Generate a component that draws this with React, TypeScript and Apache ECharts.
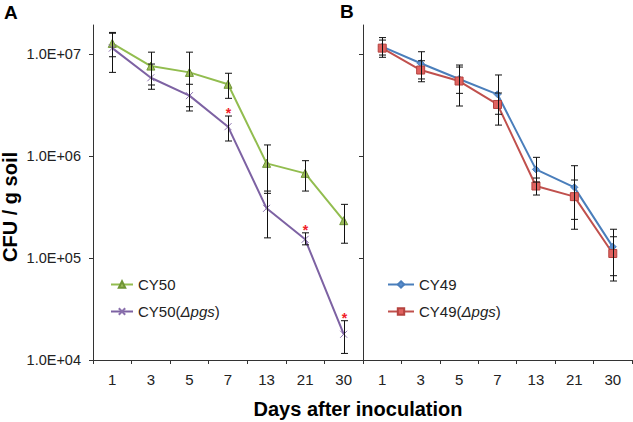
import React, { useEffect, useRef } from "react";
import * as echarts from "echarts";

const days = ["1", "3", "5", "7", "13", "21", "30"];
const yTicks = [1e4, 1e5, 1e6, 1e7];

const cy50 = [1.28e7, 7.67e6, 6.65e6, 5.08e6, 8.51e5, 6.79e5, 2.33e5];
const cy50Low = [9.47e6, 5.0e6, 3.06e6, 3.7e6, 4.32e5, 4.55e5, 1.4e5];
const cy50High = [1.64e7, 1.05e7, 1.05e7, 6.52e6, 1.29e6, 9.04e5, 3.37e5];

const cy50pgs = [1.15e7, 5.89e6, 3.93e6, 1.95e6, 3.08e5, 1.53e5, 1.79e4];
const cy50pgsLow = [6.65e6, 4.54e6, 2.78e6, 1.41e6, 1.58e5, 1.35e5, 1.16e4];
const cy50pgsHigh = [1.61e7, 8.03e6, 5.08e6, 2.48e6, 4.55e5, 1.77e5, 2.43e4];
const cy50pgsSig = [false, false, false, true, false, true, true];

const cy49 = [1.19e7, 8.17e6, 5.73e6, 4.05e6, 7.43e5, 4.95e5, 1.29e5];
const cy49Low = [9.84e6, 5.73e6, 4.14e6, 2.58e6, 5.58e5, 2.4e5, 6.72e4];
const cy49High = [1.46e7, 1.06e7, 7.85e6, 6.27e6, 9.75e5, 8.07e5, 1.92e5];

const cy49pgs = [1.15e7, 7.01e6, 5.47e6, 3.22e6, 5.1e5, 4.01e5, 1.11e5];
const cy49pgsLow = [9.35e6, 5.38e6, 3.11e6, 2.02e6, 4.16e5, 1.92e5, 5.96e4];
const cy49pgsHigh = [1.38e7, 8.65e6, 7.5e6, 4.17e6, 6.11e5, 5.84e5, 1.62e5];

const FONT = "'Liberation Sans', Arial, sans-serif";
const AXIS_COLOR = "#333";
const Y_MIN = 1e4;
const Y_MAX = 1.94e7;

const errData = (low: number[], high: number[], sig?: boolean[]) =>
  low.map((l, i) => [i, l, high[i], sig && sig[i] ? 1 : 0]);

const errorSeries = (idx: number, low: number[], high: number[], sig?: boolean[]) => ({
  type: "custom",
  xAxisIndex: idx,
  yAxisIndex: idx,
  z: 5,
  silent: true,
  encode: { x: 0, y: [1, 2] },
  data: errData(low, high, sig),
  renderItem: (params: any, api: any) => {
    const i = api.value(0);
    const lo = api.coord([i, api.value(1)]);
    const hi = api.coord([i, api.value(2)]);
    const x = Math.round(lo[0]) + 0.5;
    const w = 3.5;
    const stroke = { stroke: "#111", lineWidth: 1 };
    const children: any[] = [
      { type: "line", shape: { x1: x, y1: hi[1], x2: x, y2: lo[1] }, style: stroke },
      { type: "line", shape: { x1: x - w, y1: hi[1], x2: x + w, y2: hi[1] }, style: stroke },
      { type: "line", shape: { x1: x - w, y1: lo[1], x2: x + w, y2: lo[1] }, style: stroke },
    ];
    if (api.value(3) === 1) {
      children.push({
        type: "text",
        x: x,
        y: hi[1] - 10,
        style: {
          text: "*",
          fill: "#f0202a",
          font: `bold 14px ${FONT}`,
          align: "center",
          verticalAlign: "top",
        },
      });
    }
    return { type: "group", children };
  },
});

const xAxisCommon = {
  type: "category",
  data: days,
  boundaryGap: true,
  axisLine: { lineStyle: { color: AXIS_COLOR, width: 1 } },
  axisTick: { show: true, length: 4, lineStyle: { color: AXIS_COLOR } },
  axisLabel: { fontSize: 15, color: "#222", fontFamily: FONT, margin: 12 },
  splitLine: { show: false },
};

const yAxisCommon = {
  type: "log",
  logBase: 10,
  min: Y_MIN,
  max: Y_MAX,
  axisLine: { show: true, lineStyle: { color: AXIS_COLOR, width: 1 } },
  axisTick: { show: true, length: 4, lineStyle: { color: AXIS_COLOR }, customValues: yTicks },
  splitLine: { show: false },
  minorTick: { show: false },
};

const legendRich = {
  i: { fontStyle: "italic", fontSize: 15, fontFamily: FONT, color: "#222" },
};
const legendFormatter = (name: string) => {
  const k = name.indexOf("(Δpgs)");
  if (k < 0) return name;
  return `${name.slice(0, k)}({i|Δpgs})`;
};

export default function App() {
  const ref = useRef<HTMLDivElement>(null);
  useEffect(() => {
    if (!ref.current) return;
    const chart = echarts.init(ref.current, undefined, { renderer: "svg" });
    chart.setOption({
      animation: false,
      backgroundColor: "#fff",
      textStyle: { fontFamily: FONT },
      grid: [
        { left: 93, top: 25, width: 270, height: 335 },
        { left: 363, top: 25, width: 269, height: 335 },
      ],
      xAxis: [
        { ...xAxisCommon, gridIndex: 0 },
        { ...xAxisCommon, gridIndex: 1 },
      ],
      yAxis: [
        {
          ...yAxisCommon,
          gridIndex: 0,
          axisLabel: {
            fontSize: 14.5,
            color: "#222",
            fontFamily: FONT,
            margin: 12,
            customValues: yTicks,
            formatter: (v: number) => `1.0E+0${Math.round(Math.log10(v))}`,
          },
        },
        { ...yAxisCommon, gridIndex: 1, axisLabel: { show: false } },
      ],
      legend: [
        {
          data: ["CY50", "CY50(Δpgs)"],
          orient: "vertical",
          left: 105,
          top: 272,
          itemWidth: 22,
          itemHeight: 8,
          itemGap: 12,
          textStyle: { fontSize: 15, color: "#222", fontFamily: FONT, rich: legendRich },
          formatter: legendFormatter,
        },
        {
          data: ["CY49", "CY49(Δpgs)"],
          orient: "vertical",
          left: 382,
          top: 272,
          itemWidth: 26,
          itemHeight: 8,
          itemGap: 12,
          textStyle: { fontSize: 15, color: "#222", fontFamily: FONT, rich: legendRich },
          formatter: legendFormatter,
        },
      ],
      series: [
        {
          name: "CY50",
          type: "line",
          xAxisIndex: 0,
          yAxisIndex: 0,
          data: cy50,
          symbol: "triangle",
          symbolSize: 8,
          lineStyle: { color: "#92bd4f", width: 2 },
          itemStyle: { color: "#9bbb59", borderColor: "#6f9535", borderWidth: 1 },
        },
        {
          name: "CY50(Δpgs)",
          type: "line",
          xAxisIndex: 0,
          yAxisIndex: 0,
          data: cy50pgs,
          symbol: "path://M0,0L10,10M10,0L0,10",
          symbolSize: 7,
          lineStyle: { color: "#7d62a3", width: 2 },
          itemStyle: { color: "#8a70ad", borderColor: "#8a70ad", borderWidth: 1 },
        },
        {
          name: "CY49",
          type: "line",
          xAxisIndex: 1,
          yAxisIndex: 1,
          data: cy49,
          symbol: "diamond",
          symbolSize: 7,
          lineStyle: { color: "#4a7ebb", width: 2 },
          itemStyle: { color: "#5b8fd0", borderColor: "#4a7ebb", borderWidth: 1 },
        },
        {
          name: "CY49(Δpgs)",
          type: "line",
          xAxisIndex: 1,
          yAxisIndex: 1,
          data: cy49pgs,
          symbol: "rect",
          symbolSize: 8,
          lineStyle: { color: "#c0504d", width: 2 },
          itemStyle: { color: "#e0625f", borderColor: "#b5433f", borderWidth: 1 },
        },
        errorSeries(0, cy50Low, cy50High),
        errorSeries(0, cy50pgsLow, cy50pgsHigh, cy50pgsSig),
        errorSeries(1, cy49Low, cy49High),
        errorSeries(1, cy49pgsLow, cy49pgsHigh),
      ],
      graphic: [
        {
          type: "text",
          x: 4,
          y: 3,
          style: { text: "A", font: `bold 19px ${FONT}`, fill: "#000", verticalAlign: "top" },
        },
        {
          type: "text",
          x: 340,
          y: 2,
          style: { text: "B", font: `bold 19px ${FONT}`, fill: "#000", verticalAlign: "top" },
        },
        {
          type: "text",
          x: 10,
          y: 207,
          rotation: Math.PI / 2,
          style: {
            text: "CFU / g soil",
            font: `bold 20px ${FONT}`,
            fill: "#000",
            align: "center",
            verticalAlign: "middle",
          },
        },
        {
          type: "text",
          x: 358,
          y: 409,
          style: {
            text: "Days after inoculation",
            font: `bold 20px ${FONT}`,
            fill: "#000",
            align: "center",
            verticalAlign: "middle",
          },
        },
      ],
    });
    return () => chart.dispose();
  }, []);
  return (
    <div
      ref={ref}
      style={{ position: "fixed", left: 0, top: 0, width: 633, height: 422 }}
    />
  );
}
